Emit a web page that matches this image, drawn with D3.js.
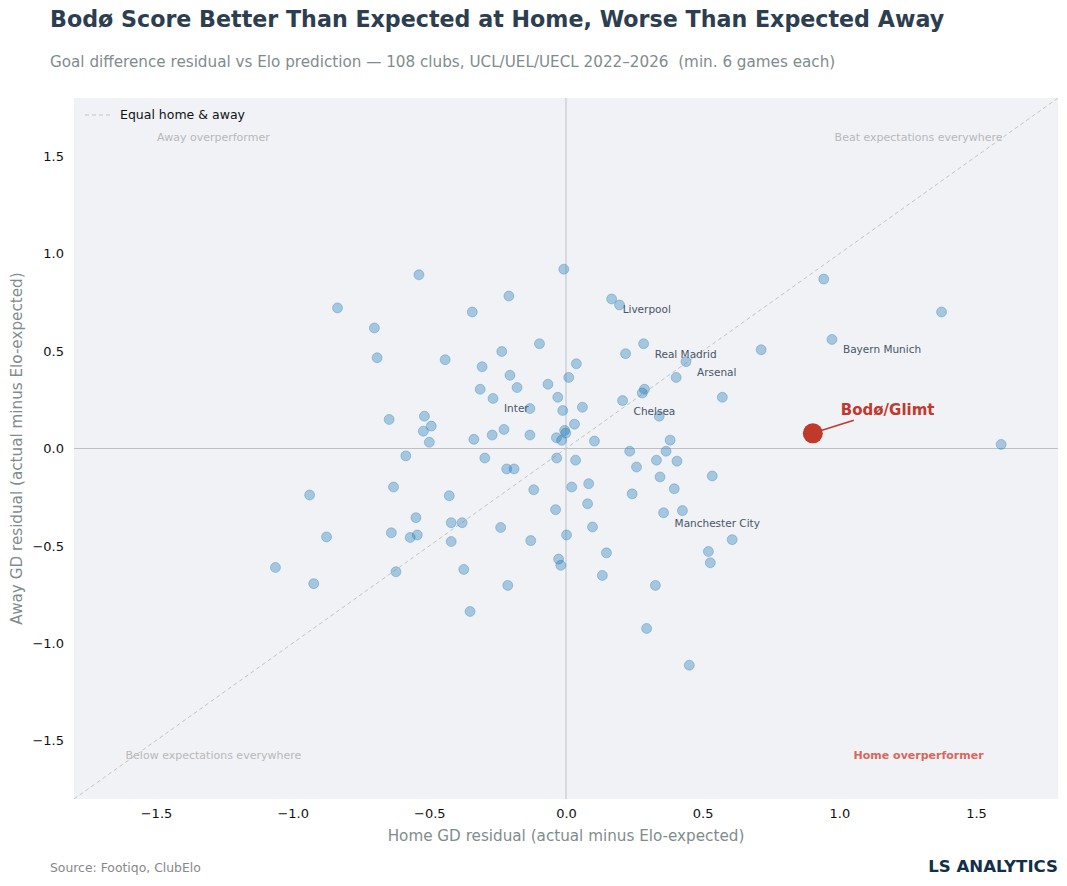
<!DOCTYPE html>
<html><head><meta charset="utf-8">
<script src="https://cdn.jsdelivr.net/npm/d3@7/dist/d3.min.js"></script>
<style>body{margin:0;background:#fff;} svg{display:block;font-family:"DejaVu Sans",sans-serif;}</style>
</head><body>
<script>
// Home GD residual (x) and Away GD residual (y) for each club
const homeResid = [-0.836,-0.701,-0.691,-0.538,-0.343,-0.209,-0.008,0.167,0.196,-0.097,-0.235,-0.442,-0.307,-0.205,-0.179,-0.066,0.010,0.038,0.218,0.284,0.439,0.714,0.943,1.374,0.973,-0.314,-0.267,-0.030,0.060,0.287,0.279,0.403,0.572,0.207,0.341,-0.132,-0.012,-0.647,-0.518,-0.493,-0.522,-0.500,-0.337,-0.270,-0.227,-0.132,-0.035,-0.005,-0.001,-0.016,0.031,0.104,0.381,1.592,0.903,-0.586,-0.297,-0.217,-0.190,-0.034,0.035,0.233,0.366,0.331,0.406,0.258,0.344,0.535,-0.631,-0.938,-0.427,-0.118,0.021,0.083,0.242,0.396,-0.549,-0.420,-0.380,-0.038,0.079,0.357,0.426,-0.639,-0.544,-0.570,-0.876,-0.420,-0.239,-0.129,0.002,0.097,0.608,0.148,0.521,0.528,-0.027,-0.019,-1.063,-0.923,-0.622,-0.374,0.133,-0.213,0.327,-0.351,0.295,0.451];
const awayResid = [0.722,0.619,0.466,0.892,0.701,0.783,0.921,0.768,0.737,0.538,0.498,0.456,0.420,0.376,0.313,0.330,0.365,0.435,0.487,0.538,0.446,0.507,0.870,0.701,0.560,0.304,0.257,0.263,0.212,0.304,0.285,0.365,0.263,0.246,0.166,0.205,0.195,0.149,0.166,0.115,0.089,0.032,0.047,0.069,0.098,0.069,0.055,0.093,0.079,0.042,0.125,0.038,0.043,0.021,0.078,-0.038,-0.049,-0.105,-0.105,-0.049,-0.060,-0.014,-0.014,-0.060,-0.065,-0.095,-0.146,-0.141,-0.198,-0.239,-0.243,-0.212,-0.198,-0.181,-0.233,-0.207,-0.355,-0.381,-0.381,-0.314,-0.284,-0.330,-0.319,-0.433,-0.444,-0.457,-0.454,-0.478,-0.406,-0.473,-0.444,-0.403,-0.468,-0.536,-0.529,-0.587,-0.568,-0.600,-0.611,-0.694,-0.633,-0.621,-0.652,-0.703,-0.703,-0.837,-0.924,-1.113];
const clubNames = {7:"Liverpool",19:"Real Madrid",20:"Arsenal",24:"Bayern Munich",33:"Chelsea",26:"Inter",81:"Manchester City"};
const highlightIndex = 54;
const highlightName = "Bodø/Glimt";
const xTicks = [-1.5,-1.0,-0.5,0.0,0.5,1.0,1.5];
const yTicks = [-1.5,-1.0,-0.5,0.0,0.5,1.0,1.5];
const quadrantLabels = [
  {x:-1.29, y:1.595, text:"Away overperformer", hl:false},
  {x:1.29, y:1.595, text:"Beat expectations everywhere", hl:false},
  {x:-1.29, y:-1.58, text:"Below expectations everywhere", hl:false},
  {x:1.29, y:-1.58, text:"Home overperformer", hl:true}
];

const W=1067,H=886;
const m={l:74,r:9,t:98,b:87};
const svg=d3.select("body").append("svg").attr("width",W).attr("height",H);
const x=d3.scaleLinear().domain([-1.8,1.8]).range([m.l,W-m.r]);
const y=d3.scaleLinear().domain([-1.8,1.8]).range([H-m.b,m.t]);
const fmt=d3.format(".1f");
const minus=v=>fmt(v).replace("-","\u2212");

svg.append("rect").attr("x",m.l).attr("y",m.t).attr("width",W-m.l-m.r).attr("height",H-m.t-m.b).attr("fill","#f0f2f6");
svg.append("clipPath").attr("id","c").append("rect").attr("x",m.l).attr("y",m.t).attr("width",W-m.l-m.r).attr("height",H-m.t-m.b);
const g=svg.append("g").attr("clip-path","url(#c)");
g.append("line").attr("x1",x(0)).attr("x2",x(0)).attr("y1",m.t).attr("y2",H-m.b).attr("stroke","#bdc1c6").attr("stroke-width",1);
g.append("line").attr("y1",y(0)).attr("y2",y(0)).attr("x1",m.l).attr("x2",W-m.r).attr("stroke","#bdc1c6").attr("stroke-width",1);
g.append("line").attr("x1",x(-1.8)).attr("y1",y(-1.8)).attr("x2",x(1.8)).attr("y2",y(1.8)).attr("stroke","#c4c4c4").attr("stroke-width",1).attr("stroke-dasharray","4,3");

// axes
const xa=svg.append("g").attr("transform",`translate(0,${H-m.b})`).call(d3.axisBottom(x).tickValues(xTicks).tickFormat(minus).tickSize(0).tickPadding(10));
const ya=svg.append("g").attr("transform",`translate(${m.l},0)`).call(d3.axisLeft(y).tickValues(yTicks).tickFormat(minus).tickSize(0).tickPadding(10));
[xa,ya].forEach(a=>{a.select(".domain").remove();a.selectAll("text").attr("font-size",13).attr("fill","#111").attr("font-family","DejaVu Sans");});

// quadrant labels
svg.selectAll(".q").data(quadrantLabels).join("text").attr("x",d=>x(d.x)).attr("y",d=>y(d.y)).attr("text-anchor","middle").attr("dominant-baseline","middle")
  .attr("font-size",11).attr("font-weight",d=>d.hl?"bold":"normal").attr("fill",d=>d.hl?"#d9675a":"#b8b8b8").text(d=>d.text);

// points
const pts=homeResid.map((h,i)=>({h,a:awayResid[i],i})).filter(d=>d.i!==highlightIndex);
g.selectAll(".pt").data(pts).join("circle").attr("cx",d=>x(d.h)).attr("cy",d=>y(d.a)).attr("r",5)
  .attr("fill","#1f77b4").attr("fill-opacity",0.36).attr("stroke","#1f77b4").attr("stroke-opacity",0.3).attr("stroke-width",1);

// club labels
svg.selectAll(".lab").data(Object.keys(clubNames).map(k=>({i:+k,n:clubNames[k]}))).join("text")
  .attr("x",d=>x(homeResid[d.i])+11).attr("y",d=>y(awayResid[d.i])+11).attr("dominant-baseline","middle")
  .attr("font-size",10.5).attr("fill","#4a5566").text(d=>d.n);

// highlight
const bx=x(homeResid[highlightIndex]), by=y(awayResid[highlightIndex]);
svg.append("line").attr("x1",bx+6).attr("y1",by-2).attr("x2",bx+41).attr("y2",by-13).attr("stroke","#c0392b").attr("stroke-width",1.5);
svg.append("circle").attr("cx",bx).attr("cy",by).attr("r",10).attr("fill","#c0392b");
svg.append("text").attr("x",bx+28).attr("y",by-22.5).attr("dominant-baseline","middle").attr("font-size",15).attr("font-weight","bold").attr("fill","#c0392b").text(highlightName);

// legend
svg.append("line").attr("x1",85).attr("x2",111).attr("y1",115).attr("y2",115).attr("stroke","#c4c4c4").attr("stroke-dasharray","4,3");
svg.append("text").attr("x",120).attr("y",115).attr("dominant-baseline","middle").attr("font-size",12.5).attr("fill","#111").text("Equal home & away");

// titles
svg.append("text").attr("x",50).attr("y",27).attr("font-size",22.2).attr("font-weight","bold").attr("fill","#2c3e50").text("Bodø Score Better Than Expected at Home, Worse Than Expected Away");
svg.append("text").attr("x",50).attr("y",67).attr("font-size",15.2).attr("fill","#7f8c8d").text("Goal difference residual vs Elo prediction \u2014 108 clubs, UCL/UEL/UECL 2022\u20132026  (min. 6 games each)").style("white-space","pre");
svg.append("text").attr("x",x(0)).attr("y",841).attr("text-anchor","middle").attr("font-size",15.2).attr("fill","#7f8c8d").text("Home GD residual (actual minus Elo-expected)");
svg.append("text").attr("transform",`translate(22,${y(0)}) rotate(-90)`).attr("text-anchor","middle").attr("font-size",15.2).attr("fill","#7f8c8d").text("Away GD residual (actual minus Elo-expected)");
svg.append("text").attr("x",50).attr("y",872).attr("font-size",12.4).attr("fill","#888").text("Source: Footiqo, ClubElo");
svg.append("text").attr("x",1058).attr("y",872).attr("text-anchor","end").attr("font-size",16.6).attr("font-weight","bold").attr("fill","#13304a").text("LS ANALYTICS");
</script>
</body></html>
